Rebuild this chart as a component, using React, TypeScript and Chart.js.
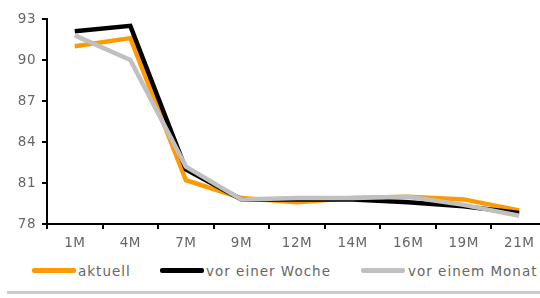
import React, { useEffect, useRef } from "react";
import { Chart, registerables } from "chart.js";

Chart.register(...registerables);

const categories = ["1M", "4M", "7M", "9M", "12M", "14M", "16M", "19M", "21M"];
const aktuell = [91.0, 91.6, 81.2, 79.9, 79.6, 79.9, 80.0, 79.8, 79.0];
const vorEinerWoche = [92.1, 92.5, 82.0, 79.8, 79.8, 79.8, 79.6, 79.3, 78.8];
const vorEinemMonat = [91.8, 90.0, 82.2, 79.8, 79.9, 79.9, 80.0, 79.4, 78.6];
const yTicks = [78, 81, 84, 87, 90, 93];

const seriesNames = ["aktuell", "vor einer Woche", "vor einem Monat"];
const seriesColors = ["#ff9900", "#000000", "#c0c0c0"];

const FONT = "'DejaVu Sans', sans-serif";

const spacingPlugin = {
  id: "spacing",
  beforeDraw: (chart: any) => {
    try { chart.ctx.letterSpacing = "0.5px"; } catch (e) {}
  },
};

export default function App() {
  const ref = useRef<HTMLCanvasElement | null>(null);

  useEffect(() => {
    if (!ref.current) return;
    const chart = new Chart(ref.current, {
      type: "line",
      data: {
        labels: categories,
        datasets: [aktuell, vorEinerWoche, vorEinemMonat].map((d, i) => ({
          label: seriesNames[i],
          data: d,
          borderColor: seriesColors[i],
          backgroundColor: seriesColors[i],
          borderWidth: 4.5,
          pointRadius: 0,
          tension: 0,
          order: 3 - i,
        })),
      },
      options: {
        animation: false,
        responsive: false,
        layout: { padding: { top: 19, right: 3, left: 0, bottom: 0 } },
        plugins: { legend: { display: false }, tooltip: { enabled: false } },
        scales: {
          x: {
            type: "category",
            offset: true,
            border: { display: true, color: "#000", width: 2 },
            grid: { display: true, drawOnChartArea: false, drawTicks: true, tickLength: 5, color: "#000", lineWidth: 2, offset: true },
            ticks: { color: "#666", font: { family: FONT, size: 13.5 }, padding: 6, maxRotation: 0 },
            afterFit: (s: any) => { s.height = 31; },
          },
          y: {
            min: 78,
            max: 93,
            afterBuildTicks: (s: any) => { s.ticks = yTicks.map((v) => ({ value: v })); },
            border: { display: true, color: "#000", width: 2 },
            grid: { display: true, drawOnChartArea: false, drawTicks: true, tickLength: 5, color: "#000", lineWidth: 2 },
            ticks: { color: "#666", font: { family: FONT, size: 13.5 }, padding: 6 },
            afterFit: (s: any) => { s.width = 47; },
          },
        },
      },
      plugins: [spacingPlugin],
    });
    return () => chart.destroy();
  }, []);

  return (
    <div style={{ position: "fixed", left: 0, top: 0, width: 540, height: 298, overflow: "hidden", background: "#fff", fontFamily: FONT }}>
      <canvas ref={ref} width={550} height={255} style={{ position: "absolute", left: 0, top: 0, width: 550, height: 255 }} />
      {[
        { x: 32, tx: 78 },
        { x: 160, tx: 206 },
        { x: 361, tx: 408 },
      ].map((p, i) => (
        <React.Fragment key={i}>
          <div style={{ position: "absolute", left: p.x, top: 268, width: 44, height: 5, background: seriesColors[i], borderRadius: 2 }} />
          <div style={{ position: "absolute", left: p.tx, top: 262, fontSize: 13.5, letterSpacing: "1px", lineHeight: "18px", color: "#666", whiteSpace: "nowrap" }}>{seriesNames[i]}</div>
        </React.Fragment>
      ))}
      <div style={{ position: "absolute", left: 7, top: 291, width: 533, height: 3, background: "#ccc" }} />
    </div>
  );
}
